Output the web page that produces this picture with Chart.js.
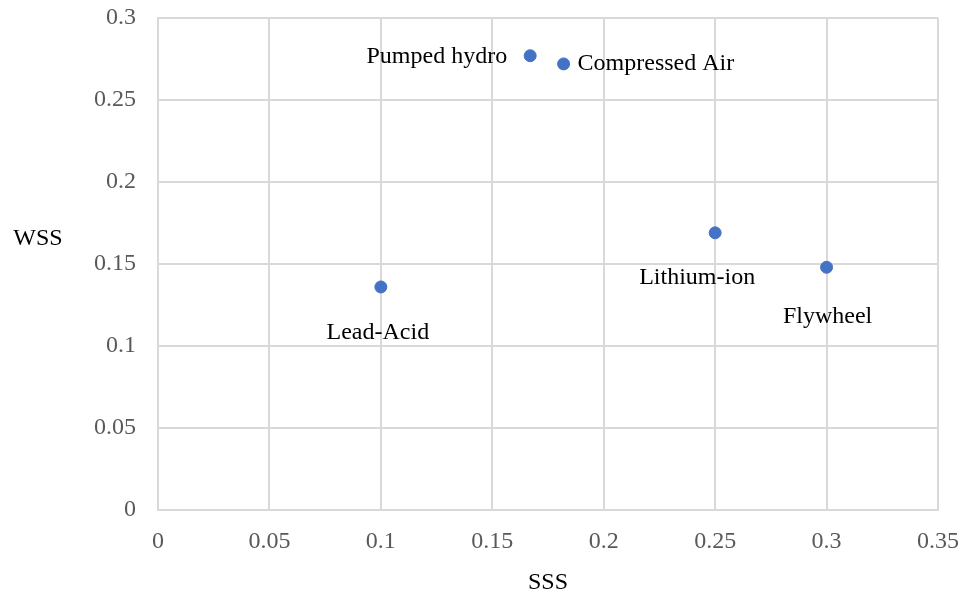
<!DOCTYPE html>
<html>
<head>
<meta charset="utf-8">
<script src="https://cdn.jsdelivr.net/npm/chart.js@4.4.1/dist/chart.umd.min.js"></script>
<style>
  html, body { margin: 0; padding: 0; background: #fff; }
  #wrap { width: 963px; height: 597px; }
</style>
</head>
<body>
<div id="wrap"><canvas id="chart" width="963" height="597"></canvas></div>
<script>
// storage technologies, SSS (x) vs WSS (y)
const techNames = ['Pumped hydro', 'Compressed Air', 'Lead-Acid', 'Lithium-ion', 'Flywheel'];
const sssValues = [0.167, 0.182, 0.100, 0.250, 0.300];
const wssValues = [0.277, 0.272, 0.136, 0.169, 0.148];
const xTicks = [0, 0.05, 0.1, 0.15, 0.2, 0.25, 0.3, 0.35];
const yTicks = [0, 0.05, 0.1, 0.15, 0.2, 0.25, 0.3];

const FONT = "'Liberation Serif', 'Times New Roman', serif";

// where each label sits relative to its point
const labelPlace = {
  'Pumped hydro': { dx: -23, dy: 1, align: 'right' },
  'Compressed Air': { dx: 14, dy: 0, align: 'left' },
  'Lead-Acid': { dx: -3, dy: 46, align: 'center' },
  'Lithium-ion': { dx: -18, dy: 45, align: 'center' },
  'Flywheel': { dx: 1, dy: 49, align: 'center' }
};

const pointLabels = {
  id: 'pointLabels',
  afterDatasetsDraw(chart) {
    const ctx = chart.ctx;
    const meta = chart.getDatasetMeta(0);
    ctx.save();
    ctx.font = '24px ' + FONT;
    ctx.fillStyle = '#000';
    ctx.textBaseline = 'middle';
    meta.data.forEach((pt, i) => {
      const p = labelPlace[techNames[i]];
      ctx.textAlign = p.align;
      ctx.fillText(techNames[i], pt.x + p.dx, pt.y + p.dy);
    });
    // horizontal y-axis title
    const ys = chart.scales.y;
    ctx.textAlign = 'center';
    ctx.fillText('WSS', 38, (ys.top + ys.bottom) / 2 - 25);
    ctx.restore();
  }
};

new Chart(document.getElementById('chart'), {
  type: 'scatter',
  data: {
    datasets: [{
      data: sssValues.map((x, i) => ({ x: x, y: wssValues[i] })),
      backgroundColor: '#4472C4',
      borderColor: '#4472C4',
      pointRadius: 6,
      pointHoverRadius: 6
    }]
  },
  options: {
    responsive: false,
    animation: false,
    layout: { padding: 0 },
    plugins: {
      legend: { display: false },
      tooltip: { enabled: false }
    },
    scales: {
      x: {
        type: 'linear',
        min: 0,
        max: 0.35,
        afterBuildTicks: (axis) => { axis.ticks = xTicks.map(v => ({ value: v })); },
        afterFit: (axis) => {
          axis.height = 87;
          axis.paddingLeft = 0;
          axis.paddingRight = 25;
        },
        grid: { color: '#d9d9d9', lineWidth: 2, drawTicks: false },
        border: { color: '#d9d9d9', width: 2 },
        ticks: {
          color: '#595959',
          padding: 17,
          font: { family: FONT, size: 24 },
          callback: (v) => String(v)
        },
        title: {
          display: true,
          text: 'SSS',
          color: '#000',
          font: { family: FONT, size: 24 },
          padding: { top: 4, bottom: 0 }
        }
      },
      y: {
        type: 'linear',
        min: 0,
        max: 0.3,
        afterBuildTicks: (axis) => { axis.ticks = yTicks.map(v => ({ value: v })); },
        afterFit: (axis) => {
          axis.width = 158;
          axis.paddingTop = 18;
          axis.paddingBottom = 0;
        },
        grid: { color: '#d9d9d9', lineWidth: 2, drawTicks: false },
        border: { color: '#d9d9d9', width: 2 },
        ticks: {
          color: '#595959',
          padding: 22,
          font: { family: FONT, size: 24 },
          callback: (v) => String(v)
        }
      }
    }
  },
  plugins: [pointLabels]
});
</script>
</body>
</html>
